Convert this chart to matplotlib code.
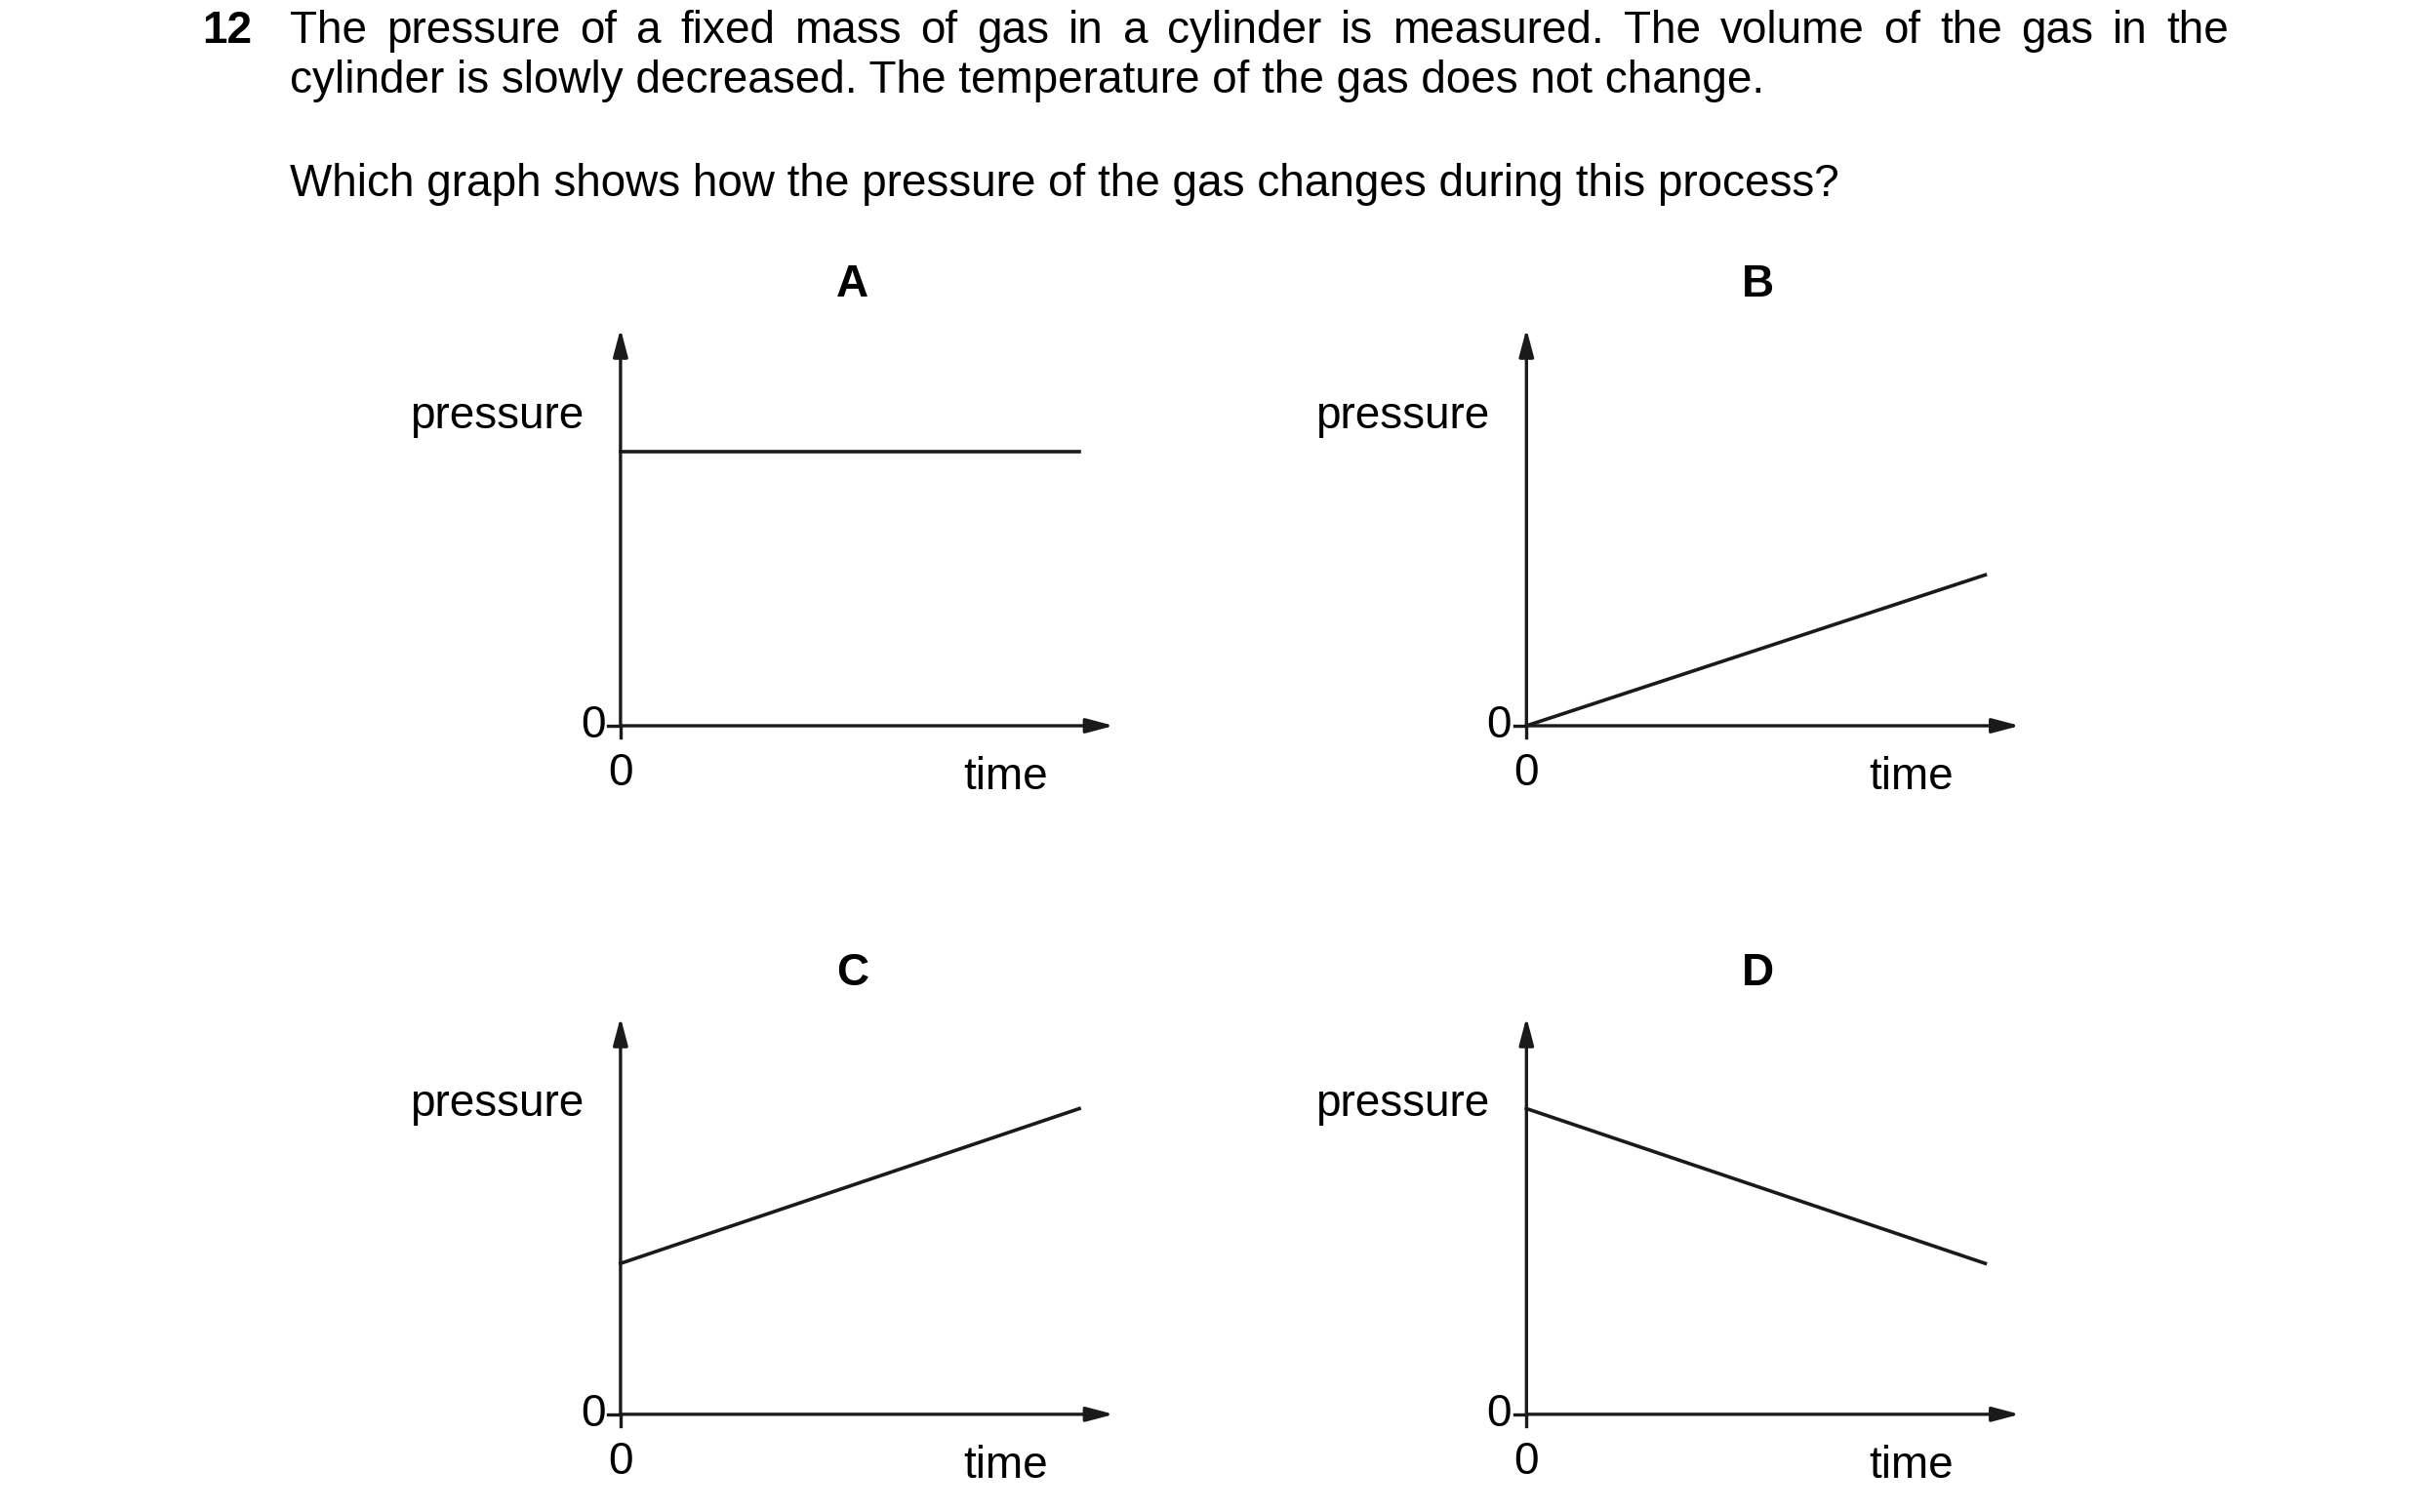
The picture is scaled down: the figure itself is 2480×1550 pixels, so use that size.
import matplotlib.pyplot as plt

plt.rcParams['font.family'] = ['Liberation Sans', 'DejaVu Sans']

# graph values: pressure at start and end (fraction of axis height), time where line ends
labels = ['A', 'B', 'C', 'D']
p_start = [0.69, 0.0, 0.38, 0.77]
p_end = [0.69, 0.38, 0.77, 0.38]
t_end = 0.93

W, H = 1560, 975   # layout units of the page
fig = plt.figure(figsize=(24.8, 15.5), dpi=100)
renderer = fig.canvas.get_renderer()

fs = 33
fig.text(130 / W, 1 - 20 / H, '12', fontsize=fs, fontweight='bold', va='center', ha='left')

# first line is justified between x=187 and x=1437
line1 = 'The pressure of a fixed mass of gas in a cylinder is measured. The volume of the gas in the'.split()
left, right = 187 / W, 1437 / W
widths = []
for w in line1:
    t = fig.text(0, 0, w, fontsize=fs)
    widths.append(t.get_window_extent(renderer).width / fig.bbox.width)
    t.remove()
gap = (right - left - sum(widths)) / (len(line1) - 1)
x = left
for w, wd in zip(line1, widths):
    fig.text(x, 1 - 20 / H, w, fontsize=fs, va='center', ha='left')
    x += wd + gap

fig.text(187 / W, 1 - 52 / H,
         'cylinder is slowly decreased. The temperature of the gas does not change.',
         fontsize=fs, va='center', ha='left')
fig.text(187 / W, 1 - 119 / H,
         'Which graph shows how the pressure of the gas changes during this process?',
         fontsize=fs, va='center', ha='left')

x0s = [400, 984, 400, 984]
y0s = [468, 468, 912, 912]
aw, ah = 318, 256
col = '#1a1a1a'

for lab, ps, pe, x0, y0 in zip(labels, p_start, p_end, x0s, y0s):
    ax = fig.add_axes([x0 / W, 1 - y0 / H, aw / W, ah / H])
    ax.set_xlim(0, 1)
    ax.set_ylim(0, 1)
    ax.axis('off')
    arr = dict(arrowstyle='-|>,head_length=1.7,head_width=0.45', color=col, lw=2.4,
               shrinkA=0, shrinkB=0)
    ax.annotate('', xy=(0, 1), xytext=(0, 0), arrowprops=arr, annotation_clip=False)
    ax.annotate('', xy=(1, 0), xytext=(0, 0), arrowprops=arr, annotation_clip=False)
    ax.plot([-0.025, 0], [0, 0], color=col, lw=2.4, clip_on=False)
    ax.plot([0, 0], [0, -0.03], color=col, lw=2.4, clip_on=False)
    ax.plot([0, t_end], [ps, pe], color=col, lw=2.6, clip_on=False)
    ax.text(-0.075, 0.78, 'pressure', fontsize=fs, ha='right', va='center', transform=ax.transAxes)
    ax.text(-0.03, 0, '0', fontsize=fs, ha='right', va='center', transform=ax.transAxes)
    ax.text(0, -0.12, '0', fontsize=fs, ha='center', va='center', transform=ax.transAxes)
    ax.text(0.78, -0.13, 'time', fontsize=fs, ha='center', va='center', transform=ax.transAxes)
    ax.text(0.47, 1.11, lab, fontsize=fs, fontweight='bold', ha='center', va='center',
            transform=ax.transAxes)

fig.savefig('out.png', dpi=100, facecolor='white')
